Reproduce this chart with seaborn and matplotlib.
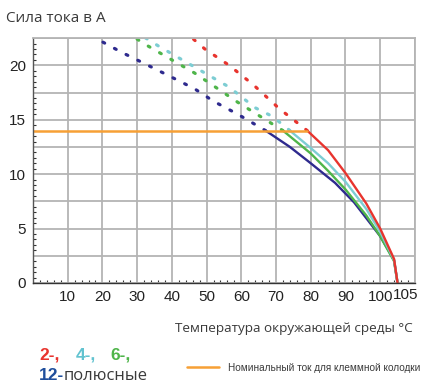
import numpy as np
import matplotlib
matplotlib.use("Agg")
import matplotlib.pyplot as plt
import seaborn as sns
from matplotlib.ticker import MultipleLocator

# Current-carrying capacity vs ambient temperature
# solid parts of the derating curves (below the rated current)
red_x = [79, 82, 85, 90, 96, 100, 104, 105]
red_y = [14, 13.1, 12.2, 10.1, 7.3, 5, 2.2, 0]
cyan_x = [74, 80, 85, 90, 96, 100, 104, 105]
cyan_y = [14, 12.4, 11, 9.3, 6.8, 4.7, 2.1, 0]
green_x = [72, 80, 85, 90, 96, 100, 104, 105]
green_y = [14, 11.9, 10.3, 8.6, 6.2, 4.3, 2.0, 0]
navy_x = [67, 74, 80, 87, 92.5, 100, 104, 105]
navy_y = [14, 12.5, 11, 9.2, 7.4, 4.3, 2.1, 0]

# dotted parts (above the rated current)
red_dot_x = [79, 71, 63.5, 56.5, 49.5, 45.5]
red_dot_y = [14, 16, 18.2, 20, 21.5, 22.6]
cyan_dot_x = [74, 69, 64, 56.5, 50, 43, 36, 32]
cyan_dot_y = [14, 15.3, 16.1, 18, 19.2, 20.5, 21.8, 22.6]
green_dot_x = [72, 66, 59, 53, 46.5, 40, 33, 29]
green_dot_y = [14, 15.2, 16.6, 17.9, 19.3, 20.5, 21.8, 22.6]
navy_dot_x = [67, 59, 52, 46.5, 40, 32.5, 25.5, 18]
navy_dot_y = [14, 15.5, 16.7, 17.85, 18.9, 20.1, 21.2, 22.5]

# rated current of the terminal block
rated_x = [0, 79]
rated_y = [14, 14]

x_labels = ['', '10', '20', '30', '40', '50', '60', '70', '80', '90', '100', '']
y_labels = ['0', '', '5', '', '10', '', '15', '', '20', '']

RED = '#e8342e'
CYAN = '#7dcdd3'
GREEN = '#4fb54a'
NAVY = '#2e2a8e'
ORANGE = '#f7a035'
TXT = '#3a3a3a'

sns.set_style("white")
plt.rcParams['font.family'] = ['Liberation Sans', 'DejaVu Sans']

fig = plt.figure(figsize=(4.33, 3.85), dpi=100)
ax = fig.add_axes([0.0762, 0.265, 0.882, 0.636])

dot_style = dict(linestyle=(0, (0.6, 3.5)), lw=2.3, dash_capstyle='round')
for xs, ys, c in [(navy_dot_x, navy_dot_y, NAVY), (green_dot_x, green_dot_y, GREEN),
                  (cyan_dot_x, cyan_dot_y, CYAN), (red_dot_x, red_dot_y, RED)]:
    sns.lineplot(x=xs, y=ys, ax=ax, color=c, sort=False, estimator=None, **dot_style)

for xs, ys, c in [(navy_x, navy_y, NAVY), (green_x, green_y, GREEN),
                  (cyan_x, cyan_y, CYAN), (red_x, red_y, RED)]:
    sns.lineplot(x=xs, y=ys, ax=ax, color=c, lw=1.7, sort=False, estimator=None)

sns.lineplot(x=rated_x, y=rated_y, ax=ax, color=ORANGE, lw=1.8,
             label='Номинальный ток для клеммной колодки')

ax.set_xlim(0, 110)
ax.set_ylim(0, 22.5)
ax.set_xticks(np.arange(0, 111, 10))
ax.set_xticklabels(x_labels)
ax.set_yticks(np.arange(0, 22.6, 2.5))
ax.set_yticklabels(y_labels)
ax.xaxis.set_minor_locator(MultipleLocator(2))
ax.yaxis.set_minor_locator(MultipleLocator(0.5))
ax.tick_params(which='major', length=0, labelsize=11, colors='#222222', pad=5)
ax.tick_params(which='minor', bottom=True, left=True, top=False, right=False,
               direction='in', length=2.5, width=0.8, color='#333333')
ax.set_axisbelow(True)
ax.grid(True, which='major', color='#b4b4b4', lw=1.3)

for s in ['top', 'right']:
    ax.spines[s].set_color('#b4b4b4')
    ax.spines[s].set_linewidth(1.3)
ax.spines['left'].set_color('#555555')
ax.spines['bottom'].set_color('#333333')
ax.spines['left'].set_linewidth(1.0)
ax.spines['bottom'].set_linewidth(1.0)

# last tick label sits a bit to the right of 100
ax.text(107.3, -0.02, '105', transform=ax.get_xaxis_transform(), ha='center',
        va='top', fontsize=11, color='#222222')
ax.set_xlabel('')
ax.set_ylabel('')

fig.text(0.013, 0.953, 'Сила тока в А', fontsize=11, color=TXT,
         family=['Open Sans', 'DejaVu Sans'], va='center')
fig.text(0.954, 0.148, 'Температура окружающей среды °C', fontsize=9.7, color=TXT,
         family=['Open Sans', 'DejaVu Sans'], ha='right', va='center')

fig.text(0.090, 0.078, '2-,', color=RED, fontsize=12.5, fontweight='bold', va='center')
fig.text(0.175, 0.078, '4-,', color='#62c3d0', fontsize=12.5, fontweight='bold', va='center')
fig.text(0.254, 0.078, '6-,', color=GREEN, fontsize=12.5, fontweight='bold', va='center')
fig.text(0.090, 0.024, '12-', color='#1f4e9c', fontsize=12.5, fontweight='bold', va='center')
fig.text(0.147, 0.024, 'полюсные', color=TXT, fontsize=12, va='center',
         family=['Open Sans', 'DejaVu Sans'])

ax.legend(loc='center left', bbox_to_anchor=(0.432, 0.045), bbox_transform=fig.transFigure,
          frameon=False, fontsize=7.2, handlelength=3.2, handletextpad=0.9,
          borderpad=0, borderaxespad=0, labelcolor=TXT)

fig.savefig('out.png', dpi=100)
